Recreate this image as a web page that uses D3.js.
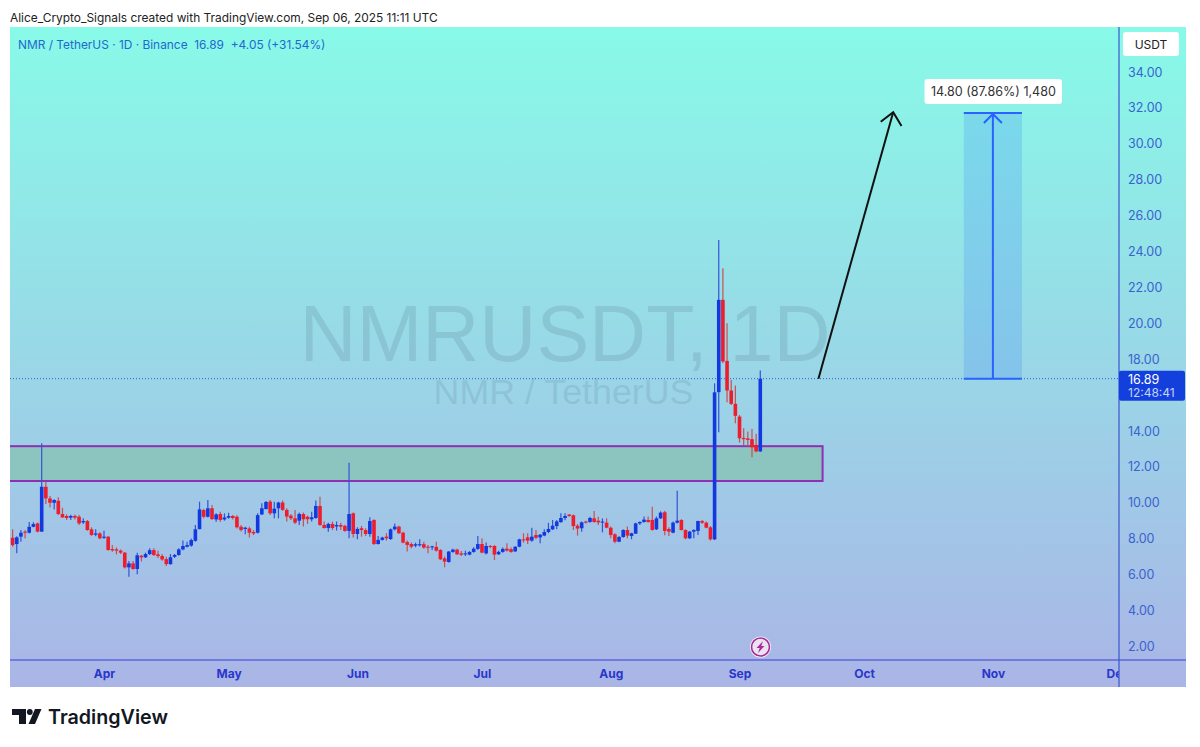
<!DOCTYPE html>
<html>
<head>
<meta charset="utf-8">
<title>NMRUSDT 1D</title>
<script src="https://cdn.jsdelivr.net/npm/d3@7"></script>
<style>
    html, body { margin: 0; padding: 0; background: #fff; }
    svg { display: block; }
    text { font-family: Inter, "Noto Sans", sans-serif; }
</style>
</head>
<body>
<svg id="chart" width="1200" height="747"></svg>
<script>
// daily candles, first one is Mar 10 2025, last one Sep 6 2025
const firstDay = new Date(Date.UTC(2025, 2, 10));

const opens = [
    8.03, 7.68, 8.09, 8.37, 8.31, 8.64, 8.83, 8.37, 10.87, 10.22,
    9.98, 10.09, 9.35, 9.24, 9.15, 9.24, 9.20, 8.89, 8.96, 8.50,
    8.20, 8.27, 8.03, 8.09, 7.40, 7.38, 7.31, 7.20, 6.38, 6.60,
    6.29, 7.03, 6.94, 7.12, 7.34, 7.10, 7.01, 6.84, 6.56, 6.97,
    7.07, 7.38, 7.53, 7.59, 7.86, 8.51, 9.57, 9.20, 9.67, 9.05,
    9.35, 9.05, 9.15, 9.24, 9.20, 8.64, 8.52, 8.55, 8.35, 8.31,
    9.33, 9.63, 10.04, 9.39, 9.67, 9.99, 9.58, 9.26, 9.11, 8.98,
    9.35, 9.20, 9.06, 9.13, 9.80, 8.74, 8.57, 8.80, 8.66, 8.74,
    8.69, 8.41, 9.39, 8.24, 8.56, 8.46, 8.24, 9.02, 7.68, 7.91,
    8.09, 7.96, 8.50, 8.65, 8.31, 7.79, 7.68, 7.59, 7.61, 7.67,
    7.53, 7.50, 7.52, 7.35, 6.88, 6.68, 7.24, 7.37, 7.16, 7.11,
    7.09, 7.24, 7.41, 7.68, 7.16, 7.57, 7.57, 7.11, 7.24, 7.42,
    7.39, 7.27, 7.53, 7.94, 8.05, 7.87, 8.18, 8.05, 8.15, 8.35,
    8.50, 8.68, 8.90, 9.13, 9.32, 9.28, 8.70, 8.56, 8.93, 8.91,
    9.11, 8.98, 8.89, 8.87, 8.59, 8.22, 7.81, 8.07, 8.46, 8.13,
    8.26, 8.83, 8.91, 9.02, 9.02, 8.50, 9.11, 9.45, 8.52, 8.31,
    8.87, 9.02, 8.46, 8.00, 8.37, 8.41, 8.96, 8.87, 8.61, 7.94,
    16.14, 21.28, 17.88, 16.23, 15.49, 14.78, 13.59, 13.56, 13.52, 13.20,
    12.84
];
const highs = [
    8.51, 8.12, 8.46, 8.46, 8.90, 8.89, 8.87, 13.29, 11.15, 10.35,
    10.17, 10.28, 9.70, 9.33, 9.31, 9.33, 9.29, 9.11, 9.02, 8.61,
    8.50, 8.33, 8.42, 8.12, 7.62, 7.49, 7.38, 7.23, 6.73, 6.73,
    7.20, 7.07, 7.20, 7.44, 7.44, 7.31, 7.12, 6.97, 7.12, 7.12,
    7.44, 7.87, 7.81, 7.99, 8.74, 10.04, 9.65, 10.13, 9.85, 9.39,
    9.48, 9.39, 9.42, 9.29, 9.28, 8.74, 8.64, 8.64, 8.46, 9.39,
    9.95, 10.08, 10.13, 10.04, 10.04, 10.10, 9.67, 9.35, 9.58, 9.43,
    9.43, 9.26, 9.48, 10.10, 10.32, 8.93, 8.87, 8.93, 8.93, 8.87,
    8.76, 12.21, 9.43, 8.61, 8.69, 8.56, 9.17, 9.06, 8.13, 8.09,
    8.28, 8.54, 8.83, 8.70, 8.37, 7.87, 7.76, 7.76, 7.94, 7.81,
    7.63, 7.59, 7.81, 7.39, 6.98, 7.29, 7.41, 7.42, 7.29, 7.31,
    7.28, 7.50, 8.13, 8.00, 7.76, 7.63, 7.63, 7.31, 7.48, 7.72,
    7.48, 7.55, 7.98, 8.28, 8.28, 8.59, 8.46, 8.24, 8.50, 8.86,
    9.02, 9.02, 9.39, 9.39, 9.35, 9.32, 8.79, 8.93, 8.98, 9.20,
    9.52, 9.20, 9.11, 9.11, 8.65, 8.28, 8.13, 8.50, 8.65, 8.31,
    8.87, 8.94, 9.21, 9.21, 9.76, 9.21, 9.50, 9.54, 8.61, 8.93,
    10.65, 9.06, 8.50, 8.41, 8.50, 8.98, 9.02, 8.93, 8.68, 16.63,
    24.62, 23.04, 19.98, 16.82, 16.51, 14.87, 14.13, 13.95, 14.09, 13.82,
    17.34
];
const lows = [
    7.53, 7.16, 7.81, 7.99, 8.27, 8.61, 8.33, 8.37, 9.91, 9.72,
    9.61, 9.29, 9.15, 9.02, 9.02, 9.05, 8.74, 8.79, 8.42, 8.14,
    8.12, 7.94, 7.96, 7.31, 7.25, 7.10, 7.12, 6.32, 5.86, 6.25,
    6.00, 6.70, 6.90, 7.07, 7.01, 6.90, 6.75, 6.45, 6.53, 6.90,
    7.03, 7.34, 7.49, 7.53, 7.81, 8.50, 9.11, 9.16, 9.02, 8.92,
    8.92, 8.98, 9.09, 9.05, 8.55, 8.38, 8.22, 8.05, 8.18, 8.27,
    9.30, 9.61, 9.30, 9.11, 9.11, 9.54, 8.93, 9.02, 8.80, 8.74,
    8.65, 8.80, 8.93, 9.09, 8.70, 8.54, 8.37, 8.46, 8.43, 8.46,
    8.37, 8.00, 8.05, 7.94, 8.09, 8.13, 8.09, 7.63, 7.65, 7.87,
    7.87, 7.91, 8.43, 8.24, 7.72, 7.26, 7.44, 7.50, 7.54, 7.42,
    7.16, 7.35, 7.27, 6.79, 6.38, 6.64, 7.20, 7.07, 7.01, 7.01,
    7.05, 7.20, 7.35, 7.16, 7.09, 7.44, 6.79, 7.07, 7.20, 7.27,
    7.20, 7.24, 7.50, 7.76, 7.68, 7.81, 7.94, 7.72, 8.11, 8.28,
    8.46, 8.50, 8.87, 9.00, 9.20, 8.46, 8.15, 8.37, 8.83, 8.87,
    8.87, 8.74, 8.33, 8.56, 8.00, 7.72, 7.78, 8.03, 8.00, 7.94,
    8.24, 8.74, 8.87, 8.87, 8.43, 8.46, 9.08, 8.17, 8.13, 8.28,
    8.83, 8.43, 7.94, 7.96, 8.00, 8.18, 8.80, 8.56, 7.87, 7.90,
    13.91, 17.75, 15.58, 15.43, 14.41, 13.33, 13.20, 13.11, 12.52, 12.79,
    12.80
];
const closes = [
    7.62, 8.05, 8.31, 8.31, 8.64, 8.79, 8.37, 10.87, 10.22, 9.98,
    10.13, 9.35, 9.16, 9.13, 9.24, 9.15, 8.83, 8.96, 8.46, 8.18,
    8.27, 8.00, 8.09, 7.35, 7.33, 7.31, 7.20, 6.38, 6.60, 6.29,
    7.05, 6.94, 7.12, 7.34, 7.07, 7.01, 6.82, 6.56, 6.94, 7.07,
    7.38, 7.57, 7.62, 7.90, 8.50, 9.61, 9.20, 9.67, 9.07, 9.33,
    9.02, 9.16, 9.24, 9.13, 8.61, 8.46, 8.59, 8.31, 8.27, 9.29,
    9.67, 10.02, 9.39, 9.65, 9.99, 9.58, 9.21, 9.11, 8.87, 9.35,
    9.06, 9.06, 9.17, 9.80, 8.74, 8.57, 8.80, 8.57, 8.74, 8.65,
    8.41, 9.35, 8.24, 8.52, 8.46, 8.24, 8.96, 7.68, 7.91, 8.04,
    8.00, 8.50, 8.65, 8.28, 7.76, 7.63, 7.53, 7.67, 7.67, 7.48,
    7.48, 7.55, 7.31, 6.83, 6.70, 7.26, 7.37, 7.11, 7.09, 7.16,
    7.24, 7.42, 7.68, 7.20, 7.57, 7.52, 7.09, 7.24, 7.41, 7.31,
    7.24, 7.53, 7.94, 7.89, 7.87, 8.09, 8.03, 8.20, 8.35, 8.52,
    8.70, 8.94, 9.13, 9.24, 9.24, 8.68, 8.54, 8.89, 8.87, 9.13,
    8.91, 8.89, 8.93, 8.59, 8.18, 7.81, 8.07, 8.46, 8.15, 8.28,
    8.83, 8.91, 9.04, 8.91, 8.46, 9.11, 9.43, 8.41, 8.37, 8.87,
    8.98, 8.46, 8.00, 8.37, 8.46, 8.96, 8.87, 8.59, 7.94, 16.13,
    21.28, 17.85, 16.23, 15.49, 14.82, 13.57, 13.52, 13.48, 13.07, 12.84,
    16.89
];

const priceTicks = [2, 4, 6, 8, 10, 12, 14, 18, 20, 22, 24, 26, 28, 30, 32, 34];
const monthTicks = [3, 4, 5, 6, 7, 8, 9, 10, 11].map(m => new Date(Date.UTC(2025, m, 1)));

// drawn objects, in date / price terms
const lastPrice = 16.89;
const zoneTop = 13.13;
const zoneBottom = 11.19;
const zoneEnd = new Date(Date.UTC(2025, 8, 21));
const boxStart = new Date(Date.UTC(2025, 9, 25));
const boxMid = new Date(Date.UTC(2025, 10, 1));
const boxEnd = new Date(Date.UTC(2025, 11, -22));
const boxTop = 31.69;
const arrowLine = [[new Date(Date.UTC(2025, 8, 20)), lastPrice], [new Date(Date.UTC(2025, 9, 8)), 31.73]];
const arrowHead = [[new Date(Date.UTC(2025, 9, 5)), 31.2], [new Date(Date.UTC(2025, 9, 8)), 31.73], [new Date(Date.UTC(2025, 9, 10)), 30.97]];

const candles = closes.map((c, i) => ({
    date: d3.utcDay.offset(firstDay, i),
    open: opens[i],
    high: highs[i],
    low: lows[i],
    close: c
}));

const plot = { left: 10, right: 1186, top: 27, bottom: 687, axisX: 1119, axisY: 660 };

const x = d3.scaleUtc()
    .domain([new Date(Date.UTC(2025, 3, 1)), new Date(Date.UTC(2025, 11, 1))])
    .range([104, 1117.5]);
const y = d3.scaleLinear()
    .domain([2, 34])
    .range([646, 71.5]);

const svg = d3.select('#chart');
const defs = svg.append('defs');

const grad = defs.append('linearGradient')
    .attr('id', 'bg')
    .attr('x1', 0).attr('y1', 0).attr('x2', 0).attr('y2', 1);
grad.append('stop').attr('offset', '0%').attr('stop-color', '#88faE8');
grad.append('stop').attr('offset', '100%').attr('stop-color', '#aab5e6');

defs.append('clipPath').attr('id', 'pane')
    .append('rect')
    .attr('x', plot.left).attr('y', plot.top)
    .attr('width', plot.axisX - plot.left)
    .attr('height', plot.bottom - plot.top);

// header
svg.append('text')
    .attr('x', 10).attr('y', 21.5)
    .attr('font-size', 11.92)
    .attr('fill', '#222')
    .text('Alice_Crypto_Signals created with TradingView.com, Sep 06, 2025 11:11 UTC');

svg.append('rect')
    .attr('x', plot.left).attr('y', plot.top)
    .attr('width', plot.right - plot.left)
    .attr('height', plot.bottom - plot.top)
    .attr('fill', 'url(#bg)');

// watermark
svg.append('text')
    .attr('x', 565).attr('y', 361)
    .attr('text-anchor', 'middle')
    .attr('font-size', 79)
    .attr('fill', 'rgba(80,105,125,0.18)')
    .attr('style', 'font-family: "Liberation Sans", sans-serif')
    .text('NMRUSDT, 1D');
svg.append('text')
    .attr('x', 563.5).attr('y', 403.5)
    .attr('text-anchor', 'middle')
    .attr('font-size', 35.8)
    .attr('fill', 'rgba(80,105,125,0.18)')
    .attr('style', 'font-family: "Liberation Sans", sans-serif')
    .text('NMR / TetherUS');

const pane = svg.append('g').attr('clip-path', 'url(#pane)');

// support zone
pane.append('rect')
    .attr('x', x(firstDay) - 20)
    .attr('y', y(zoneTop))
    .attr('width', x(zoneEnd) - x(firstDay) + 20)
    .attr('height', y(zoneBottom) - y(zoneTop))
    .attr('fill', '#8cc4bf')
    .attr('stroke', '#8f2fb4')
    .attr('stroke-width', 2);

// last price line
pane.append('line')
    .attr('x1', plot.left).attr('x2', plot.axisX)
    .attr('y1', y(lastPrice)).attr('y2', y(lastPrice))
    .attr('stroke', '#2f5fd8')
    .attr('stroke-width', 1)
    .attr('stroke-dasharray', '1 2');

// candles
const isUp = d => d.close >= d.open;
const candle = pane.append('g').selectAll('g')
    .data(candles)
    .enter()
    .append('g');
candle.append('line')
    .attr('x1', d => x(d.date)).attr('x2', d => x(d.date))
    .attr('y1', d => y(d.high)).attr('y2', d => y(d.low))
    .attr('stroke', d => isUp(d) ? '#2f55d8' : '#c8504e')
    .attr('stroke-width', 1.2);
candle.append('rect')
    .attr('x', d => x(d.date) - 1.8)
    .attr('width', 3.6)
    .attr('y', d => y(Math.max(d.open, d.close)))
    .attr('height', d => Math.max(1, Math.abs(y(d.open) - y(d.close))))
    .attr('fill', d => isUp(d) ? '#1238e0' : '#ee1c2c');

// long position box
pane.append('rect')
    .attr('x', x(boxStart))
    .attr('y', y(boxTop))
    .attr('width', x(boxEnd) - x(boxStart))
    .attr('height', y(lastPrice) - y(boxTop))
    .attr('fill', 'rgba(60,130,245,0.22)');
[boxTop, lastPrice].forEach(p => {
    pane.append('line')
        .attr('x1', x(boxStart)).attr('x2', x(boxEnd))
        .attr('y1', y(p)).attr('y2', y(p))
        .attr('stroke', '#2962ff')
        .attr('stroke-width', 2);
});
pane.append('line')
    .attr('x1', x(boxMid)).attr('x2', x(boxMid))
    .attr('y1', y(lastPrice)).attr('y2', y(boxTop))
    .attr('stroke', '#2962ff')
    .attr('stroke-width', 2);
pane.append('path')
    .attr('d', `M${x(boxMid) - 9},${y(boxTop) + 10}L${x(boxMid)},${y(boxTop) + 1}L${x(boxMid) + 9},${y(boxTop) + 10}`)
    .attr('fill', 'none')
    .attr('stroke', '#2962ff')
    .attr('stroke-width', 2);

// hand drawn arrow
const arrowPath = d3.line().x(d => x(d[0])).y(d => y(d[1]));
pane.append('path')
    .attr('d', arrowPath(arrowLine))
    .attr('fill', 'none').attr('stroke', '#111').attr('stroke-width', 2);
pane.append('path')
    .attr('d', arrowPath(arrowHead))
    .attr('fill', 'none').attr('stroke', '#111').attr('stroke-width', 2);

// position label
const tag = svg.append('g');
tag.append('rect')
    .attr('x', 924.5).attr('y', 79)
    .attr('width', 137.5).attr('height', 25)
    .attr('rx', 3)
    .attr('fill', '#fff');
tag.append('text')
    .attr('x', 993.4).attr('y', 96)
    .attr('text-anchor', 'middle')
    .attr('font-size', 12.55)
    .attr('fill', '#333')
    .text('14.80 (87.86%) 1,480');

// axes, the clip sits on an outer group so it stays in page coordinates
const xAxis = svg.append('g')
    .attr('clip-path', 'url(#pane)')
    .append('g')
    .attr('transform', `translate(0,${plot.axisY})`)
    .call(d3.axisBottom(x).tickValues(monthTicks).tickFormat(d3.utcFormat('%b')).tickSize(0).tickPadding(9));
xAxis.select('.domain').remove();
xAxis.selectAll('text')
    .attr('font-size', 12)
    .attr('font-weight', 700)
    .attr('fill', '#2a36cc')
    .attr('style', 'font-family: Inter, sans-serif');

const yAxis = svg.append('g')
    .attr('transform', `translate(${plot.axisX},0.5)`)
    .call(d3.axisRight(y).tickValues(priceTicks).tickFormat(d3.format('.2f')).tickSize(0).tickPadding(9));
yAxis.select('.domain').remove();
yAxis.selectAll('text')
    .attr('font-size', 12.5)
    .attr('fill', '#3a62cf')
    .attr('style', 'font-family: Inter, sans-serif');

svg.append('line')
    .attr('x1', plot.left).attr('x2', plot.right)
    .attr('y1', plot.axisY).attr('y2', plot.axisY)
    .attr('stroke', '#3a3fd6').attr('stroke-width', 1.2);
svg.append('line')
    .attr('x1', plot.axisX).attr('x2', plot.axisX)
    .attr('y1', plot.top).attr('y2', plot.bottom)
    .attr('stroke', '#3a55d0').attr('stroke-width', 1.2);

// symbol line
svg.append('text')
    .attr('x', 18).attr('y', 48.5)
    .attr('font-size', 11.9)
    .attr('fill', '#2468cf')
    .text('NMR / TetherUS · 1D · Binance  16.89  +4.05 (+31.54%)')
    .attr('xml:space', 'preserve');

// currency button
svg.append('rect')
    .attr('x', 1123).attr('y', 32)
    .attr('width', 56).attr('height', 24)
    .attr('rx', 3)
    .attr('fill', '#fff');
svg.append('text')
    .attr('x', 1151).attr('y', 48.5)
    .attr('text-anchor', 'middle')
    .attr('font-size', 12)
    .attr('fill', '#222')
    .text('USDT');

// last price tag
svg.append('rect')
    .attr('x', plot.axisX).attr('y', 370.8)
    .attr('width', 66).attr('height', 30)
    .attr('rx', 2)
    .attr('fill', '#1340dc');
svg.append('text')
    .attr('x', 1128).attr('y', 383.5)
    .attr('font-size', 12.5)
    .attr('fill', '#fff')
    .text('16.89');
svg.append('text')
    .attr('x', 1128).attr('y', 397)
    .attr('font-size', 12)
    .attr('fill', '#c6d2f6')
    .text('12:48:41');

// lightning marker under the last candles
const bolt = svg.append('g').attr('transform', 'translate(760.5,647)');
bolt.append('circle').attr('r', 10.5).attr('fill', '#fff');
bolt.append('circle').attr('r', 9).attr('fill', '#ece3f2').attr('stroke', '#a92c96').attr('stroke-width', 1.6);
bolt.append('path')
    .attr('d', 'M2.5,-6L-4,1L-0.8,1L-2.5,6L4,-1L0.8,-1Z')
    .attr('fill', '#a92c96');

// TradingView logo
const logo = svg.append('g').attr('fill', '#131722');
logo.append('path').attr('d', 'M12,709H26V724H19V715H12Z');
logo.append('circle').attr('cx', 29.8).attr('cy', 712).attr('r', 2.9);
logo.append('path').attr('d', 'M35,709H41.5L35,724H28.5Z');
logo.append('text')
    .attr('x', 48).attr('y', 724)
    .attr('font-size', 19.7)
    .attr('font-weight', 600)
    .text('TradingView');
</script>
</body>
</html>
